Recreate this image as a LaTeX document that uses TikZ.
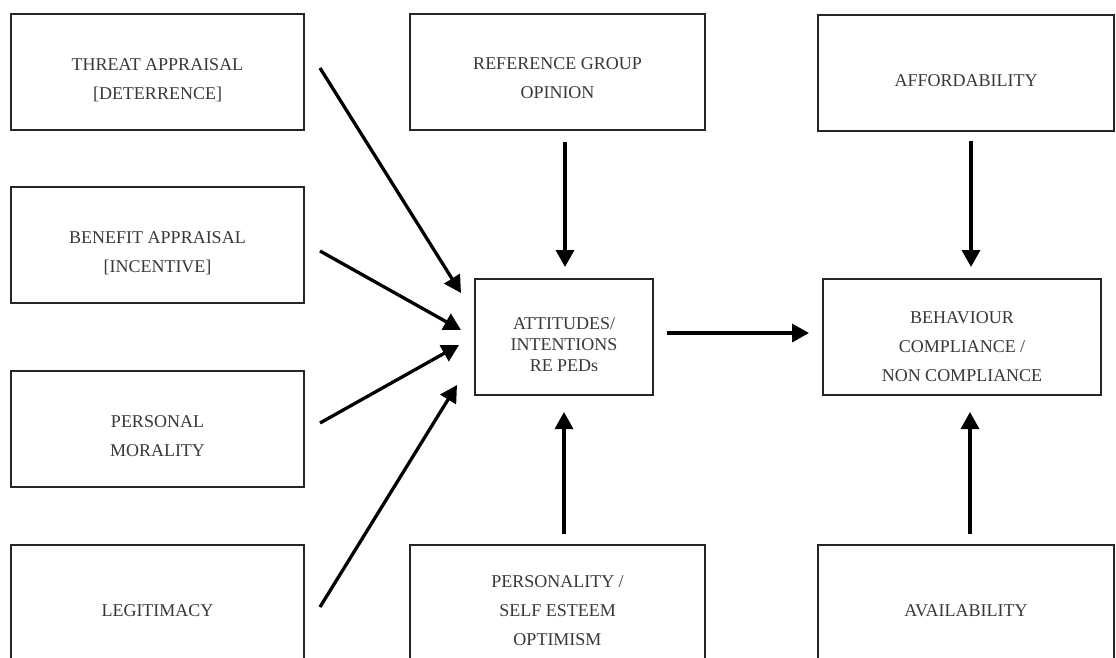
\documentclass[tikz,border=0pt]{standalone}
\usepackage{fontspec}
\setmainfont{Liberation Serif}
\usetikzlibrary{arrows.meta,calc}
\begin{document}
\begin{tikzpicture}[x=1pt,y=-1pt,
  box/.style={draw=black!85,line width=2pt,minimum width=293pt,minimum height=116pt,inner sep=0pt},
  lab/.style={align=center,text=black!78,inner sep=0pt,yshift=-8pt,font=\fontsize{18}{29}\selectfont},
  labtight/.style={lab,font=\fontsize{18}{21}\selectfont},
  conn/.style={line width=3.3pt,-{Triangle[length=17pt,width=18pt]}}]
\useasboundingbox (0,0) rectangle (1116,657);
\clip (0,0) rectangle (1116,657);
\fill[white] (0,0) rectangle (1116,657);
% left column
\node[box,label={[lab]center:THREAT APPRAISAL\\{}{[DETERRENCE]}}] (threat) at (157.5,72) {};
\node[box,label={[lab]center:BENEFIT APPRAISAL\\{}{[INCENTIVE]}}] (benefit) at (157.5,245) {};
\node[box,label={[lab]center:PERSONAL\\MORALITY}] (moral) at (157.5,428.5) {};
\node[box,label={[lab]center:LEGITIMACY}] (legit) at (157.5,603) {};
% middle column
\node[box,minimum width=295pt,label={[lab,yshift=2pt]center:REFERENCE GROUP\\OPINION}] (ref) at (557.5,72) {};
\node[box,minimum width=178pt,label={[labtight]center:ATTITUDES/\\INTENTIONS\\RE PEDs}] (att) at (564,337) {};
\node[box,minimum width=295pt,label={[lab]center:PERSONALITY /\\SELF ESTEEM\\OPTIMISM}] (pers) at (557.5,603) {};
% right column
\node[box,minimum width=296pt,label={[lab]center:AFFORDABILITY}] (afford) at (966,72.5) {};
\node[box,minimum width=278pt,label={[lab,yshift=-2pt]center:BEHAVIOUR\\COMPLIANCE /\\NON COMPLIANCE}] (beh) at (962,337) {};
\node[box,minimum width=296pt,label={[lab]center:AVAILABILITY}] (avail) at (966,603) {};
% connectors
\draw[conn] ($(threat.east)+(15,-4)$) -- ($(att.west)+(-13,-44)$);
\draw[conn] ($(benefit.east)+(15,6)$) -- ($(att.west)+(-13,-7)$);
\draw[conn] ($(moral.east)+(15,-5.5)$) -- ($(att.west)+(-15,8)$);
\draw[conn] ($(legit.east)+(15,4)$) -- ($(att.west)+(-17,48)$);
\draw[conn] ($(ref.south -| att.north)+(1,11)$) -- ($(att.north)+(1,-11)$);
\draw[conn] ($(pers.north -| att.south)+(0,-10)$) -- ($(att.south)+(0,16)$);
\draw[conn] ($(att.east)+(13,-4)$) -- ($(beh.west)+(-13,-4)$);
\draw[conn] ($(afford.south)+(5,9)$) -- ($(afford.south |- beh.north)+(5,-11)$);
\draw[conn] ($(avail.north)+(4,-10)$) -- ($(avail.north |- beh.south)+(4,16)$);
\end{tikzpicture}
\end{document}
